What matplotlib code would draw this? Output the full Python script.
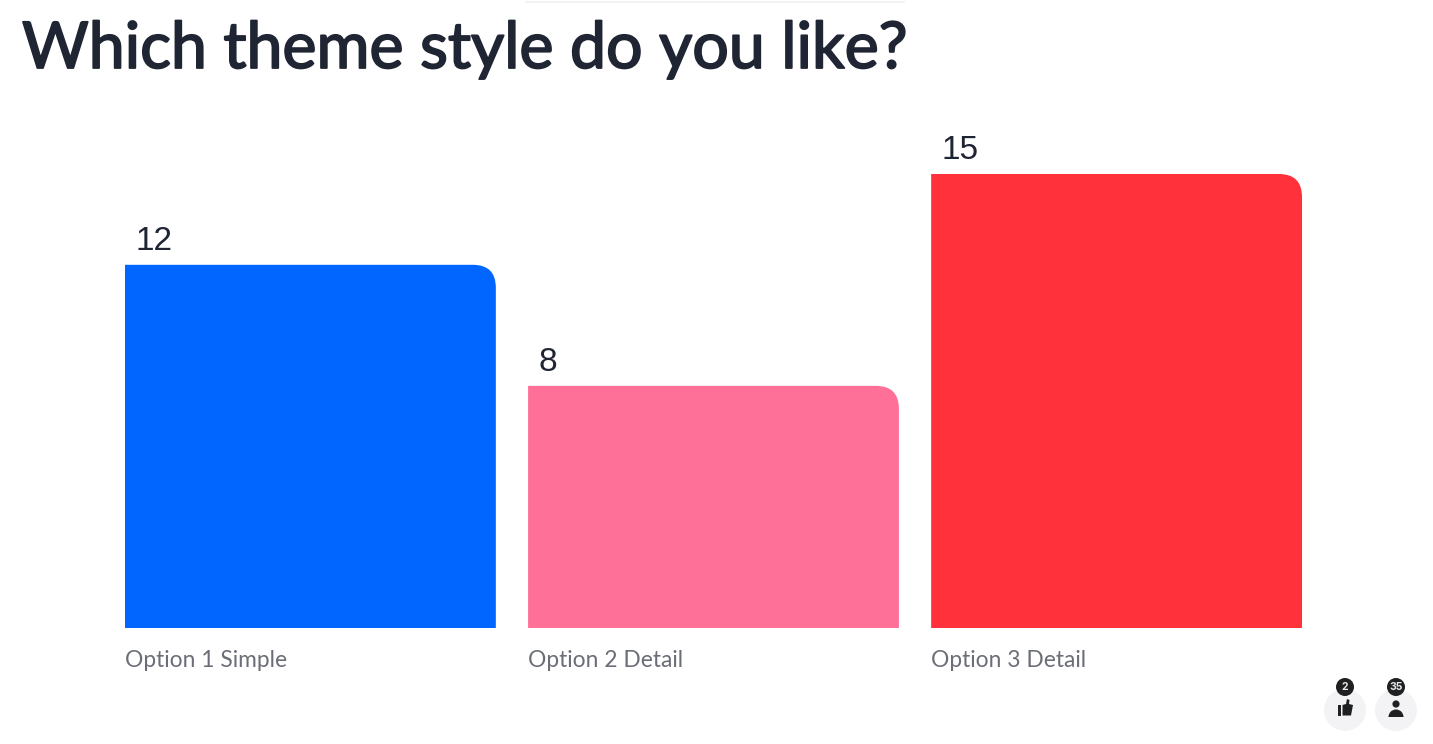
import matplotlib
matplotlib.use('Agg')
import matplotlib.pyplot as plt
import matplotlib.patheffects as pe
from matplotlib.patches import Circle, PathPatch, Rectangle, Polygon, Wedge
from matplotlib.path import Path

title = 'Which theme style do you like?'
categories = ['Option 1 Simple', 'Option 2 Detail', 'Option 3 Detail']
values = [12, 8, 15]
colors = ['#0066ff', '#ff7099', '#ff323c']
badges = ['2', '35']

W, H = 1433, 744
fig = plt.figure(figsize=(W / 100, H / 100), dpi=100, facecolor='white')
plt.rcParams['font.family'] = ['Inter', 'DejaVu Sans']

# chart area, bars are placed through the data scale
ax = fig.add_axes([125 / W, 1 - 628 / H, (1302 - 125) / W, (628 - 174) / H])
ax.set_xlim(-0.46, 2.46)
ax.set_ylim(0, 15)
ax.axis('off')

bar_w = 0.92
rx = 23 / 403
ry = 23 / (454 / 15)
for i, v in enumerate(values):
    l, r = i - bar_w / 2, i + bar_w / 2
    # top right corner is rounded, the others are square
    verts = [(l, 0), (l, v), (r - rx, v), (r, v), (r, v - ry), (r, 0), (l, 0)]
    codes = [Path.MOVETO, Path.LINETO, Path.LINETO, Path.CURVE3, Path.CURVE3, Path.LINETO, Path.CLOSEPOLY]
    ax.add_patch(PathPatch(Path(verts, codes), facecolor=colors[i], edgecolor='none'))
    ax.annotate(str(v), (l, v), xytext=(7.5, 5.5), textcoords='offset points', ha='left', va='bottom',
                fontsize=24, color='#1f2533', family='Liberation Sans')
    ax.annotate(categories[i], (l, 0), xytext=(0, -16), textcoords='offset points', ha='left', va='top',
                fontsize=16.4, color='#6b6e76', family='Lato', annotation_clip=False)

# overlay in pixel coordinates for the title and the small icons
ov = fig.add_axes([0, 0, 1, 1])
ov.set_xlim(0, W)
ov.set_ylim(H, 0)
ov.axis('off')
ov.patch.set_alpha(0)

# Lato regular with a thin stroke gets close to the medium weight of the original
ov.text(22, 68, title, fontsize=46.4, family='Lato', color='#1f2533', ha='left', va='baseline',
        path_effects=[pe.withStroke(linewidth=1.3, foreground='#1f2533')])
ov.add_patch(Rectangle((525, 1), 380, 2, facecolor='#f2f2f2', edgecolor='none'))

for cx, label in zip([1345, 1396], badges):
    ov.add_patch(Circle((cx, 710), 21, facecolor='#f3f3f5', edgecolor='none'))
    ov.add_patch(Circle((cx, 687), 9, facecolor='#1f2022', edgecolor='none'))
    ov.text(cx, 687, label, fontsize=7.5, fontweight='bold', color='#e8e8e8', ha='center', va='center')

# thumb icon
ov.add_patch(Rectangle((1338, 705), 3.5, 10.5, facecolor='#1f2022', edgecolor='none'))
ov.add_patch(Polygon([(1342.5, 705), (1346, 704), (1347, 699), (1349.5, 700), (1349, 704),
                      (1353, 705), (1351, 715.5), (1342.5, 715.5)], closed=True, facecolor='#1f2022', edgecolor='none'))
# person icon
ov.add_patch(Circle((1396, 704), 3.6, facecolor='#1f2022', edgecolor='none'))
ov.add_patch(Wedge((1396, 717), 7.5, 180, 360, facecolor='#1f2022', edgecolor='none'))

fig.savefig('out.png', dpi=100, facecolor='white')
